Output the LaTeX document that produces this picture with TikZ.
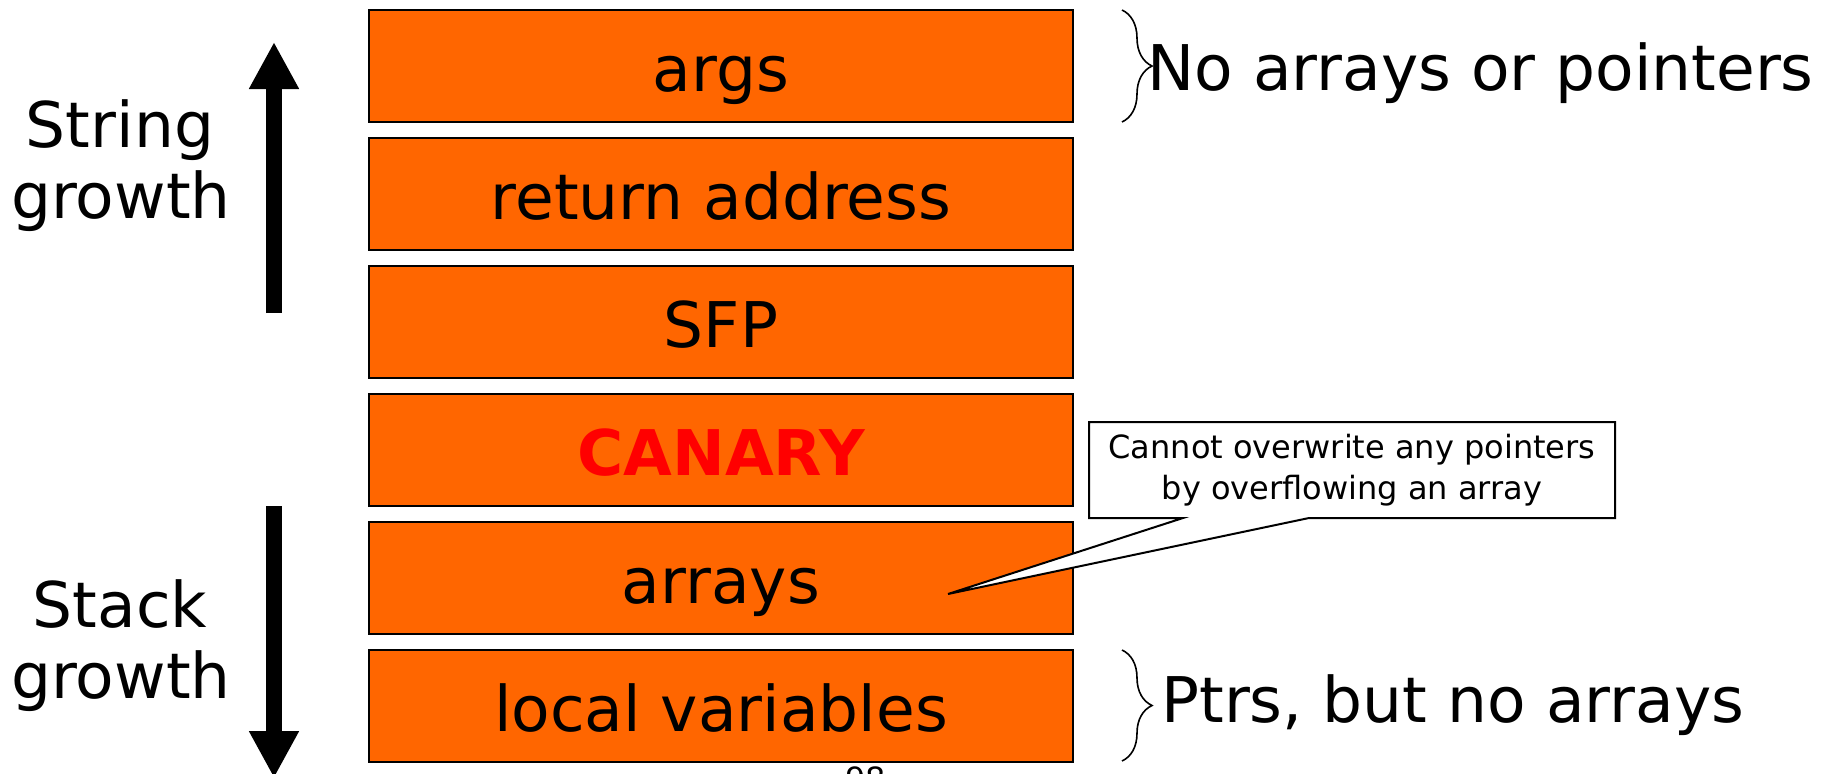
\documentclass[tikz,border=0pt]{standalone}
\usepackage{fontspec}
\setmainfont{DejaVu Sans}
\usetikzlibrary{arrows.meta,decorations.pathreplacing}
\definecolor{boxorange}{HTML}{FF6600}
\definecolor{canaryred}{HTML}{FF0000}
\begin{document}
\begin{tikzpicture}[x=0.5pt,y=-0.5pt,
  stackbox/.style={draw=black, line width=1pt, fill=boxorange, minimum width=352pt,
    minimum height=56pt, inner sep=0pt, font=\fontsize{31.5}{36}\selectfont,
    text height=27pt, text depth=1.5pt},
  biglabel/.style={font=\fontsize{31.5}{36}\selectfont, inner sep=0pt, anchor=base},
  sidelabel/.style={font=\fontsize{31.5}{36}\selectfont, inner sep=0pt, anchor=base west},
  growarrow/.style={line width=8pt, -{Triangle[width=23.5pt,length=23.5pt]}},
  bracemark/.style={decorate, decoration={brace, amplitude=15pt}, line width=0.8pt},
  calloutshape/.style={draw=black, fill=white, line width=1pt},
  calloutlabel/.style={font=\fontsize{16}{20.5}\selectfont, inner sep=0pt, align=center},
  pagenum/.style={font=\fontsize{16}{20}\selectfont, inner sep=0pt, anchor=base}
]
\useasboundingbox (0,0) rectangle (1833,773);

% stack frame
\node[stackbox] (args)   at (721,65.5)  {args};
\node[stackbox] (ret)    at (721,194)   {return address};
\node[stackbox] (sfp)    at (721,321.5) {SFP};
\node[stackbox, text=canaryred, font=\fontsize{31.5}{36}\selectfont\bfseries] (canary) at (721,449.5) {CANARY};
\node[stackbox] (arrays) at (721,577.5) {arrays};
\node[stackbox] (locals) at (721,705.5) {local variables};

% growth arrows
\coordinate (upfrom) at (274,313);
\coordinate (upto)   at (274,42);
\draw[growarrow] (upfrom) -- (upto);
\coordinate (downfrom) at (274,506);
\coordinate (downto)   at (274,778);
\draw[growarrow] (downfrom) -- (downto);

\node[biglabel] (string1) at (120,147) {String};
\node[biglabel] (string2) at (121,218) {growth};
\node[biglabel] (stack1)  at (120,627) {Stack};
\node[biglabel] (stack2)  at (121,698) {growth};

% braces
\coordinate (b1top) at (1122,10);
\coordinate (b1bot) at (1122,122);
\draw[bracemark] (b1top) -- (b1bot);
\node[sidelabel] (noarrays) at (1147,90) {No arrays or pointers};

\coordinate (b2top) at (1122,650);
\coordinate (b2bot) at (1122,761);
\draw[bracemark] (b2top) -- (b2bot);
\node[sidelabel] (ptrs) at (1161,722) {Ptrs, but no arrays};

% callout
\coordinate (tip) at (948,594);
\draw[calloutshape] (1089,422) -- (1615,422) -- (1615,518) -- (1309,518) -- (tip)
   -- (1183,518) -- (1089,518) -- cycle;
\node[calloutlabel] (callout) at (1352,470) {Cannot overwrite any pointers\\by overflowing an array};

% page number (cut off, as in the original slide)
\node[pagenum] (page) at (866,790) {98};
\end{tikzpicture}
\end{document}
